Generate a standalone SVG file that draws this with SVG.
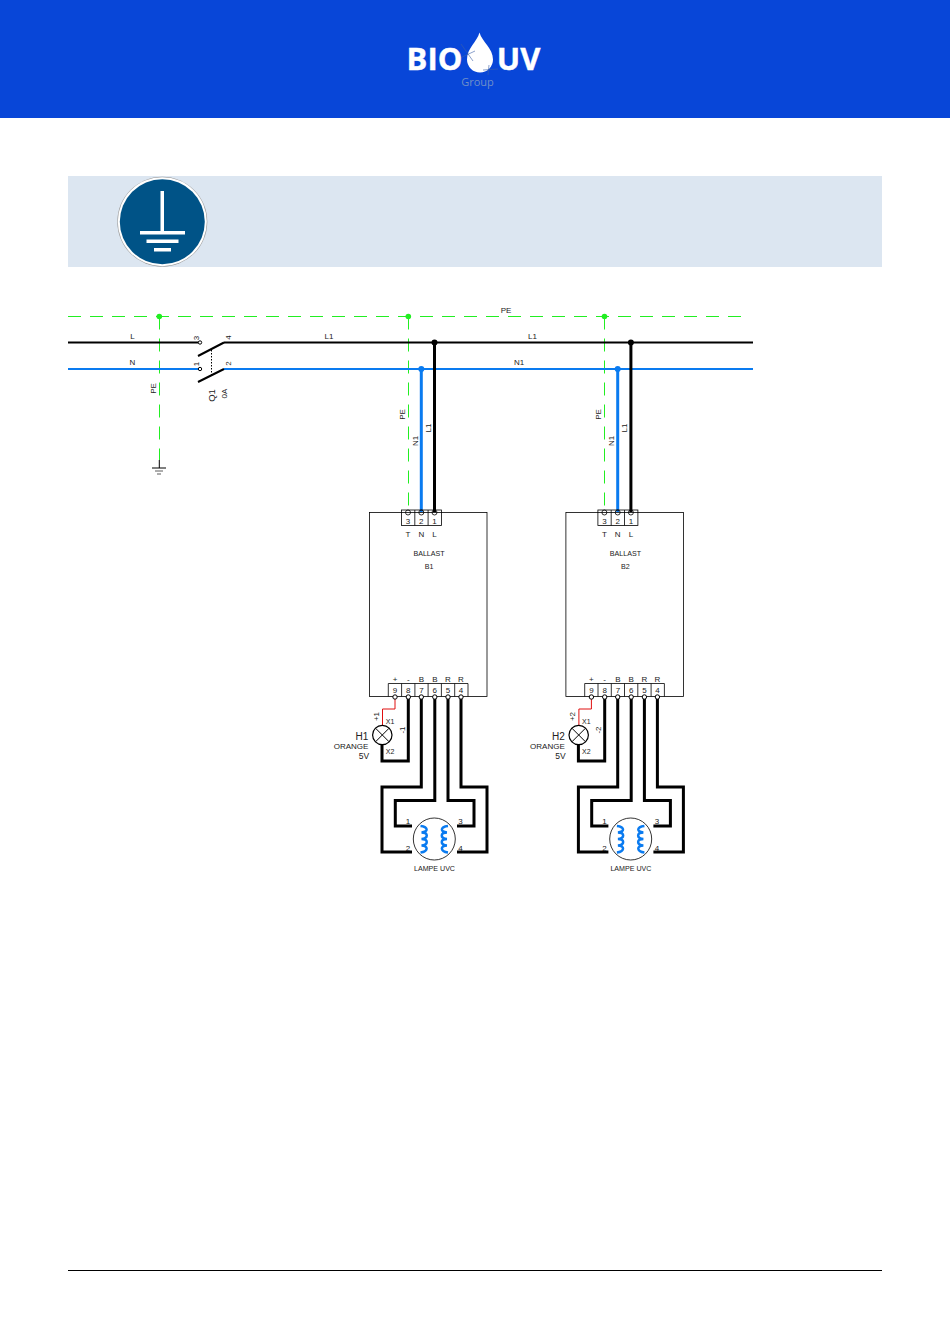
<svg xmlns="http://www.w3.org/2000/svg" width="950" height="1344" viewBox="0 0 950 1344">
<style>
text{font-family:"Liberation Sans",Arial,sans-serif;fill:#222;font-size:8px;text-anchor:middle}
.s{font-size:7.100px}
.x{font-size:7px}
.m{font-size:10px}
.w{fill:none;stroke:#000;stroke-width:2}
.b{fill:none;stroke:#000;stroke-width:3}
.bl{fill:none;stroke:#0a7bf0;stroke-width:2}
.bl3{fill:none;stroke:#0a7bf0;stroke-width:3}
.g{fill:none;stroke:#22ee22;stroke-width:1;stroke-dasharray:13 9}
.t{fill:none;stroke:#000;stroke-width:.8}
.c{fill:#fff;stroke:#000;stroke-width:1}
.coil{fill:none;stroke:#0a7bf0;stroke-width:2.500}
</style>
<defs>
<g id="coils">
<path class="coil" d="M420.500 826c8 1 8 6 1 6.500c7 0 7 6 0 6.500c7 0 7 6 0 6.500c7 0 7 6-1 7"/>
<path class="coil" d="M448 826c-8 1-8 6-1 6.500c-7 0-7 6 0 6.500c-7 0-7 6 0 6.500c-7 0-7 6 1 7"/>
</g>
<g id="cells">
<rect class="t" x="401.500" y="510" width="40" height="15.500"/>
<path class="t" d="M414.800 510V525.500M428.100 510V525.500"/>
<path class="t" d="M388.300 696.500V683.500H468V696.500M401.600 683.500V696.500M414.900 683.500V696.500M428.100 683.500V696.500M441.400 683.500V696.500M454.700 683.500V696.500"/>
</g>
<g id="ends">
<circle class="c" cx="395" cy="697" r="2.200"/>
<circle class="c" cx="408.300" cy="697" r="2.200"/>
<circle class="c" cx="421.300" cy="697" r="2.200"/>
<circle class="c" cx="434.800" cy="697" r="2.200"/>
<circle class="c" cx="448" cy="697" r="2.200"/>
<circle class="c" cx="461" cy="697" r="2.200"/>
</g>
<g id="topends" fill="none" stroke="#000" stroke-width=".8">
<circle cx="408" cy="512.500" r="2.500"/>
<circle cx="421.300" cy="512.500" r="2.500"/>
<circle cx="434.500" cy="512.500" r="2.500"/>
</g>
</defs>
<g id="header">
<rect width="950" height="118" fill="#0846d8"/>
<path d="M479.500 32.500C477 42 467 48 467 59.500A13 13 0 0 0 493 59.500C493 48 482 42 479.500 32.500Z" fill="#fff"/>
<path d="M461 44L473 61M458 59L475 51M483 70L498 69M489 65L488 75" stroke="#3a5fa8" stroke-width=".6" fill="none"/>
<text x="434.500" y="70" style="font-family:'Open Sans',sans-serif;font-size:31px;font-weight:700;fill:#fff;stroke:#fff;stroke-width:.4">BIO</text>
<text x="518.500" y="70" style="font-family:'Open Sans',sans-serif;font-size:31px;font-weight:700;fill:#fff;stroke:#fff;stroke-width:.4">UV</text>
<text x="477.500" y="85.500" style="font-family:'Open Sans',sans-serif;font-size:11px;fill:#6f8fc8">Group</text>
</g>
<g id="banner">
<rect x="68" y="176" width="814" height="91" fill="#dce6f1"/>
<circle cx="162.300" cy="221.700" r="45" fill="#9a9a9a"/>
<circle cx="162.300" cy="221.700" r="44.500" fill="#fff"/>
<circle cx="162.300" cy="221.700" r="42.500" fill="#005387"/>
<path d="M160.500 191H164V231H185V234.500H140V231H160.500Z" fill="#fff"/>
<rect x="146.500" y="239.500" width="32" height="3.500" fill="#fff"/>
<rect x="154" y="248" width="17" height="3.500" fill="#fff"/>
</g>
<g id="connectors">
<path class="g" d="M68 316.500H750"/>
<path class="g" d="M159.500 316.500V460"/>
<path class="g" d="M408.500 316.500V510"/>
<path class="g" d="M604.500 316.500V510"/>
<path class="w" d="M68 342.500H199M224 342.500H753"/>
<path class="bl" d="M68 369H199M224 369H753"/>
<path class="b" d="M434.500 342.500V512"/>
<path class="bl3" d="M421.300 369V512"/>
<path class="b" d="M630.900 342.500V512"/>
<path class="bl3" d="M617.700 369V512"/>
<circle cx="159.300" cy="316.500" r="2.800" fill="#22ee22"/>
<circle cx="408.300" cy="316.500" r="2.800" fill="#22ee22"/>
<circle cx="604.500" cy="316.500" r="2.800" fill="#22ee22"/>
<circle cx="434.500" cy="342.500" r="3" fill="#000"/>
<circle cx="630.900" cy="342.500" r="3" fill="#000"/>
<circle cx="421.300" cy="369" r="3" fill="#0a7bf0"/>
<circle cx="617.700" cy="369" r="3" fill="#0a7bf0"/>
<text x="132.500" y="338.500">L</text>
<text x="132.500" y="364.500">N</text>
<text x="329" y="338.500">L1</text>
<text x="532.500" y="338.500">L1</text>
<text x="519" y="364.500">N1</text>
<text x="506" y="313">PE</text>
<text transform="translate(156 388.500) rotate(-90)">PE</text>
<text transform="translate(404.500 414.500) rotate(-90)">PE</text>
<text transform="translate(417.500 441) rotate(-90)">N1</text>
<text transform="translate(430.500 428) rotate(-90)">L1</text>
<text transform="translate(601 414.500) rotate(-90)">PE</text>
<text transform="translate(613.900 441) rotate(-90)">N1</text>
<text transform="translate(626.900 428) rotate(-90)">L1</text>
</g>
<g id="ground">
<path d="M159.300 460V468M152 468H166" stroke="#000" fill="none"/>
<path d="M155 471H163M157 474H161" stroke="#333" stroke-width=".8" fill="none"/>
</g>
<g id="Q1">
<path d="M198 356L224 342.500M198 382L224 369" stroke="#000" stroke-width="2" fill="none"/>
<path d="M211.500 350V376" stroke="#000" stroke-dasharray="1.500 1.500" fill="none"/>
<circle cx="200" cy="342.500" r="1.700" fill="#fff" stroke="#000"/>
<circle cx="200" cy="369" r="1.700" fill="#fff" stroke="#000"/>
<text transform="translate(198.500 338) rotate(-90)">3</text>
<text transform="translate(198.500 364) rotate(-90)">1</text>
<text transform="translate(231 337.500) rotate(-90)">4</text>
<text transform="translate(231 363.500) rotate(-90)">2</text>
<text transform="translate(215 395.500) rotate(-90)" style="font-size:9.500px">Q1</text>
<text transform="translate(226.500 393.500) rotate(-90)">0A</text>
</g>
<g id="B1">
<rect x="369.500" y="512.500" width="117.500" height="184" fill="none" stroke="#000" stroke-width=".8"/>
<use href="#cells"/>
<use href="#topends"/>
<text x="408" y="524">3</text><text x="421.300" y="524">2</text><text x="434.500" y="524">1</text>
<text x="408" y="537">T</text><text x="421.300" y="537">N</text><text x="434.500" y="537">L</text>
<text class="s" x="429" y="556">BALLAST</text><text class="s" x="429" y="569">B1</text>
<text x="395" y="681.500">+</text><text x="408.300" y="681.500">-</text><text x="421.500" y="681.500">B</text><text x="434.800" y="681.500">B</text><text x="448" y="681.500">R</text><text x="461" y="681.500">R</text>
<text x="395" y="692.500">9</text><text x="408.300" y="692.500">8</text><text x="421.500" y="692.500">7</text><text x="434.800" y="692.500">6</text><text x="448" y="692.500">5</text><text x="461" y="692.500">4</text>
</g>
<g id="H1">
<path d="M395 699V709H382.500V725" fill="none" stroke="#e01010"/>
<path class="b" d="M382 745V761H408.300V697"/>
<circle cx="382.300" cy="735" r="9.700" fill="#fff" stroke="#000" stroke-width="1.200"/>
<path d="M375.500 728.200L389.100 741.800M389.100 728.200L375.500 741.800" stroke="#000"/>
<text class="x" x="390" y="724">X1</text><text class="x" x="390" y="753.500">X2</text>
<text transform="translate(378.500 716.500) rotate(-90)">+1</text>
<text transform="translate(404.500 730) rotate(-90)">-1</text>
<text class="m" x="362" y="740">H1</text>
<text x="351" y="749">ORANGE</text>
<text x="364" y="759" style="font-size:8.500px">5V</text>
</g>
<g id="lampe1">
<path class="b" d="M421.300 697V787H382V852H412"/>
<path class="b" d="M434.800 697V800.500H395.300V826H412"/>
<path class="b" d="M448 697V800.500H474V826H457"/>
<path class="b" d="M461 697V787H487V852H457"/>
<use href="#ends"/>
<circle cx="434.300" cy="839" r="21" fill="#fff" stroke="#000" stroke-width=".8"/>
<use href="#coils"/>
<text x="408" y="824">1</text><text x="408" y="850.500">2</text><text x="460.500" y="824">3</text><text x="460.500" y="850.500">4</text>
<text class="s" x="434.500" y="870.500">LAMPE UVC</text>
</g>
<g id="B2" transform="translate(196.400 0)">
<rect x="369.500" y="512.500" width="117.500" height="184" fill="none" stroke="#000" stroke-width=".8"/>
<use href="#cells"/>
<use href="#topends"/>
<text x="408" y="524">3</text><text x="421.300" y="524">2</text><text x="434.500" y="524">1</text>
<text x="408" y="537">T</text><text x="421.300" y="537">N</text><text x="434.500" y="537">L</text>
<text class="s" x="429" y="556">BALLAST</text><text class="s" x="429" y="569">B2</text>
<text x="395" y="681.500">+</text><text x="408.300" y="681.500">-</text><text x="421.500" y="681.500">B</text><text x="434.800" y="681.500">B</text><text x="448" y="681.500">R</text><text x="461" y="681.500">R</text>
<text x="395" y="692.500">9</text><text x="408.300" y="692.500">8</text><text x="421.500" y="692.500">7</text><text x="434.800" y="692.500">6</text><text x="448" y="692.500">5</text><text x="461" y="692.500">4</text>
</g>
<g id="H2" transform="translate(196.400 0)">
<path d="M395 699V709H382.500V725" fill="none" stroke="#e01010"/>
<path class="b" d="M382 745V761H408.300V697"/>
<circle cx="382.300" cy="735" r="9.700" fill="#fff" stroke="#000" stroke-width="1.200"/>
<path d="M375.500 728.200L389.100 741.800M389.100 728.200L375.500 741.800" stroke="#000"/>
<text class="x" x="390" y="724">X1</text><text class="x" x="390" y="753.500">X2</text>
<text transform="translate(378.500 716.500) rotate(-90)">+2</text>
<text transform="translate(404.500 730) rotate(-90)">-2</text>
<text class="m" x="362" y="740">H2</text>
<text x="351" y="749">ORANGE</text>
<text x="364" y="759" style="font-size:8.500px">5V</text>
</g>
<g id="lampe2" transform="translate(196.400 0)">
<path class="b" d="M421.300 697V787H382V852H412"/>
<path class="b" d="M434.800 697V800.500H395.300V826H412"/>
<path class="b" d="M448 697V800.500H474V826H457"/>
<path class="b" d="M461 697V787H487V852H457"/>
<use href="#ends"/>
<circle cx="434.300" cy="839" r="21" fill="#fff" stroke="#000" stroke-width=".8"/>
<use href="#coils"/>
<text x="408" y="824">1</text><text x="408" y="850.500">2</text><text x="460.500" y="824">3</text><text x="460.500" y="850.500">4</text>
<text class="s" x="434.500" y="870.500">LAMPE UVC</text>
</g>
<g id="footer"><path d="M68 1270.500H882" stroke="#000" stroke-width="1"/></g>
</svg>
